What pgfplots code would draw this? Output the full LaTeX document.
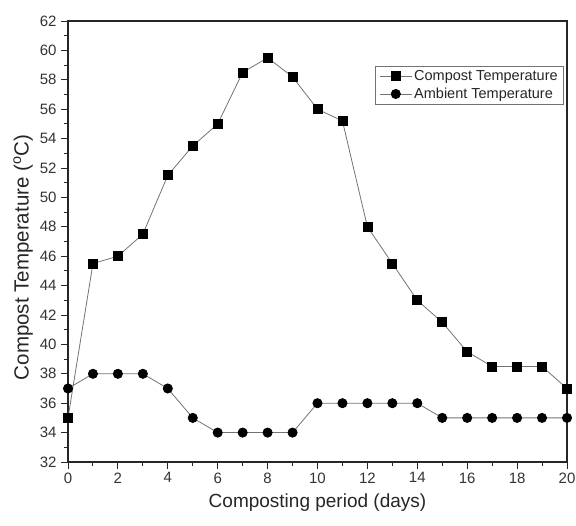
\documentclass[border=0pt]{standalone}
\usepackage{fontspec}
\setmainfont{Liberation Sans}
\usepackage{pgfplots}
\pgfplotsset{compat=1.18}
\begin{document}
\begin{tikzpicture}[x=1pt,y=1pt]
\begin{axis}[
  at={(0,0)}, anchor=south west,
  scale only axis,
  width=499pt, height=441pt,
  xmin=0, xmax=20, ymin=32, ymax=62,
  xtick={0,2,...,20}, ytick={32,34,...,62},
  minor xtick={1,3,...,19}, minor ytick={33,35,...,61},
  tick align=outside,
  xtick pos=left, ytick pos=left,
  major tick length=7pt, minor tick length=4pt,
  tick style={black!85, line width=0.9pt},
  axis line style={black!85, line width=1.1pt},
  /pgf/number format/assume math mode=true,
  ticklabel style={font=\fontsize{15}{17}\selectfont, text=black!80},
  yticklabel style={xshift=-1pt},
  xlabel={Composting period (days)},
  ylabel={Compost Temperature ($^{\mathrm{o}}$C)},
  label style={text=black!85},
  xlabel style={font=\fontsize{19}{21}\selectfont, yshift=-4pt},
  ylabel style={font=\fontsize{20.5}{22}\selectfont, at={(ticklabel cs:0.464)}},
  legend style={at={(rel axis cs:0.994,0.898)}, anchor=north east,
    font=\fontsize{14.5}{16}\selectfont, draw=black!55, line width=0.7pt,
    row sep=2pt, inner xsep=4pt, inner ysep=2pt, text=black!85},
  legend cell align=left,
  legend image code/.code={
    \draw[mark repeat=2, mark phase=2] plot coordinates {(0pt,0pt) (16pt,0pt) (32pt,0pt)};
  },
]
\addplot[black!55, line width=0.8pt, mark=square*, mark size=4.5pt, mark options={black, fill=black}]
coordinates {(0,35)(1,45.5)(2,46)(3,47.5)(4,51.5)(5,53.5)(6,55)(7,58.5)(8,59.5)(9,58.2)(10,56)(11,55.2)(12,48)(13,45.5)(14,43)(15,41.5)(16,39.5)(17,38.5)(18,38.5)(19,38.5)(20,37)};
\addlegendentry{Compost Temperature}
\addplot[black!55, line width=0.8pt, mark=*, mark size=4.6pt, mark options={black, fill=black}]
coordinates {(0,37)(1,38)(2,38)(3,38)(4,37)(5,35)(6,34)(7,34)(8,34)(9,34)(10,36)(11,36)(12,36)(13,36)(14,36)(15,35)(16,35)(17,35)(18,35)(19,35)(20,35)};
\addlegendentry{Ambient Temperature}
\end{axis}
\pgfresetboundingbox
\path[use as bounding box] (-68,-64) rectangle (508,462);
\end{tikzpicture}
\end{document}
